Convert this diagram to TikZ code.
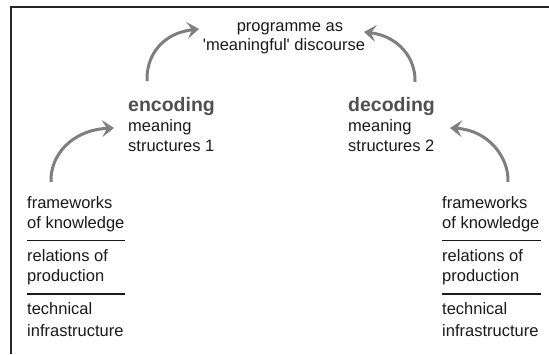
\documentclass[tikz,border=0pt]{standalone}
\usepackage{fontspec}
\setmainfont{Liberation Sans}[Ligatures=TeXOff]
\usetikzlibrary{arrows.meta}
\definecolor{arrowgray}{HTML}{7F7F7F}
\definecolor{txt}{HTML}{1A1A1A}
\definecolor{headgray}{HTML}{505050}
\begin{document}
\begin{tikzpicture}[x=1pt,y=-1pt,
  lbl/.style={anchor=base west, inner sep=0pt, font=\fontsize{16.5}{20}\selectfont, text=txt},
  ctr/.style={anchor=base, inner sep=0pt, font=\fontsize{16.5}{20}\selectfont, text=txt},
  headlbl/.style={anchor=base west, inner sep=0pt, font=\fontsize{19.5}{22}\selectfont\bfseries, text=headgray},
  arc/.style={draw=arrowgray, line width=3pt, -{Stealth[length=12pt,width=17pt,inset=5pt]}},
  sepline/.style={draw=txt, line width=1.4pt}]
\useasboundingbox (0,0) rectangle (549,354);
\fill[white] (0,0) rectangle (549,354);
\draw[line width=2pt, draw=black!85] (11,354) -- (11,7) -- (549,7);

% top
\node[ctr] (p1) at (290,31) {programme as};
\node[ctr] (p2) at (284,50) {'meaningful' discourse};

% encoding / decoding
\node[headlbl] (enc) at (128,111) {encoding};
\node[lbl] (enc1) at (128,131) {meaning};
\node[lbl] (enc2) at (128,151) {structures 1};
\node[headlbl] (dec) at (348,111) {decoding};
\node[lbl] (dec1) at (348,131) {meaning};
\node[lbl] (dec2) at (348,151) {structures 2};

% left column
\node[lbl] (lfw1) at (27,208) {frameworks};
\node[lbl] (lfw2) at (27,228) {of knowledge};
\node[lbl] (lrp1) at (27,261) {relations of};
\node[lbl] (lrp2) at (27,281.5) {production};
\node[lbl] (lti1) at (27,314) {technical};
\node[lbl] (lti2) at (27,336) {infrastructure};
\draw[sepline] (27,240.5) -- (125,240.5);
\draw[sepline] (27,294) -- (125,294);

% right column
\node[lbl] (rfw1) at (442,208) {frameworks};
\node[lbl] (rfw2) at (442,228) {of knowledge};
\node[lbl] (rrp1) at (442,261) {relations of};
\node[lbl] (rrp2) at (442,281.5) {production};
\node[lbl] (rti1) at (442,314) {technical};
\node[lbl] (rti2) at (442,336) {infrastructure};
\draw[sepline] (442,240.5) -- (541,240.5);
\draw[sepline] (442,294) -- (541,294);

% arrow ends
\coordinate (a1s) at (147,81);  \coordinate (a1e) at (199,29);
\coordinate (a2s) at (415,82);  \coordinate (a2e) at (364,32);
\coordinate (a3s) at (51,182);  \coordinate (a3e) at (114,128);
\coordinate (a4s) at (508,182); \coordinate (a4e) at (450,128);

\draw[arc] (a1s) .. controls (146,55) and (163,33) .. (a1e);
\draw[arc] (a2s) .. controls (416,58) and (398,36) .. (a2e);
\draw[arc] (a3s) .. controls (50,155) and (72,130) .. (a3e);
\draw[arc] (a4s) .. controls (509,157) and (488,130) .. (a4e);
\end{tikzpicture}
\end{document}
